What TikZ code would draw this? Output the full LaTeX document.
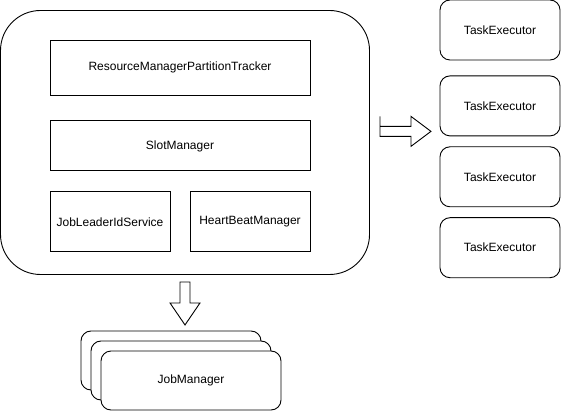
\documentclass[tikz,border=0pt]{standalone}
\usepackage{fontspec}
\setmainfont{Liberation Sans}
\usepackage{tikz}
\usetikzlibrary{positioning}
\tikzset{basic/.style={draw,line width=0.9pt,fill=white,inner sep=2pt,align=center,font=\fontsize{12}{14}\selectfont}}
\tikzset{part/.style={basic,rectangle}}
\tikzset{holder/.style={basic,rectangle,rounded corners=40pt}}
\tikzset{worker/.style={basic,rectangle,rounded corners=10pt,minimum width=120pt,minimum height=60pt}}
\tikzset{master/.style={basic,rectangle,rounded corners=10pt,minimum width=180pt,minimum height=59pt}}
\tikzset{blockarrow/.style={draw,line width=0.9pt,fill=white,line join=miter}}

\begin{document}
\begin{tikzpicture}[x=1pt,y=-1pt]
        \useasboundingbox (0,0) rectangle (561,411);
        % resource manager and its parts
        \node[holder,minimum width=369pt,minimum height=264pt] (rm) at (185,142.5) {};
        \node[part,minimum width=260pt,minimum height=55pt] (tracker) at (180,67.5) {ResourceManagerPartitionTracker};
        \node[part,minimum width=260pt,minimum height=50pt,below=25pt of tracker] (slots) {SlotManager};
        \node[part,minimum width=120pt,minimum height=60pt,below=20pt of slots.south west,anchor=north west] (leader) {JobLeaderIdService};
        \node[part,minimum width=120pt,minimum height=60pt,below=20pt of slots.south east,anchor=north east] (heart) {HeartBeatManager};
        % task executors
        \node[worker] (te1) at (500,30) {TaskExecutor};
        \node[worker,below=15pt of te1] (te2) {TaskExecutor};
        \node[worker,below=10pt of te2] (te3) {TaskExecutor};
        \node[worker,below=10pt of te3] (te4) {TaskExecutor};
        % job managers
        \node[master] (jm1) at (171,360.5) {};
        \node[master,below right=10pt and 10pt of jm1.center,anchor=center] (jm2) {};
        \node[master,below right=10pt and 10pt of jm2.center,anchor=center] (jm3) {JobManager};
        % block arrows
        \coordinate[right=10pt of rm.east |- te2.south] (rarr);
        \draw[blockarrow] (rarr) ++(0,-20) -- ++(0,10) -- ++(31,0) -- ++(0,-10) -- ++(20,15)
            -- ++(-20,15) -- ++(0,-10) -- ++(-31,0) -- cycle;
        \coordinate[below=7pt of rm.south] (darr);
        \draw[blockarrow] (darr) ++(-5,0) -- ++(10,0) -- ++(0,21) -- ++(10,0) -- ++(-15,22)
            -- ++(-15,-22) -- ++(10,0) -- cycle;
    \end{tikzpicture}
\end{document}
